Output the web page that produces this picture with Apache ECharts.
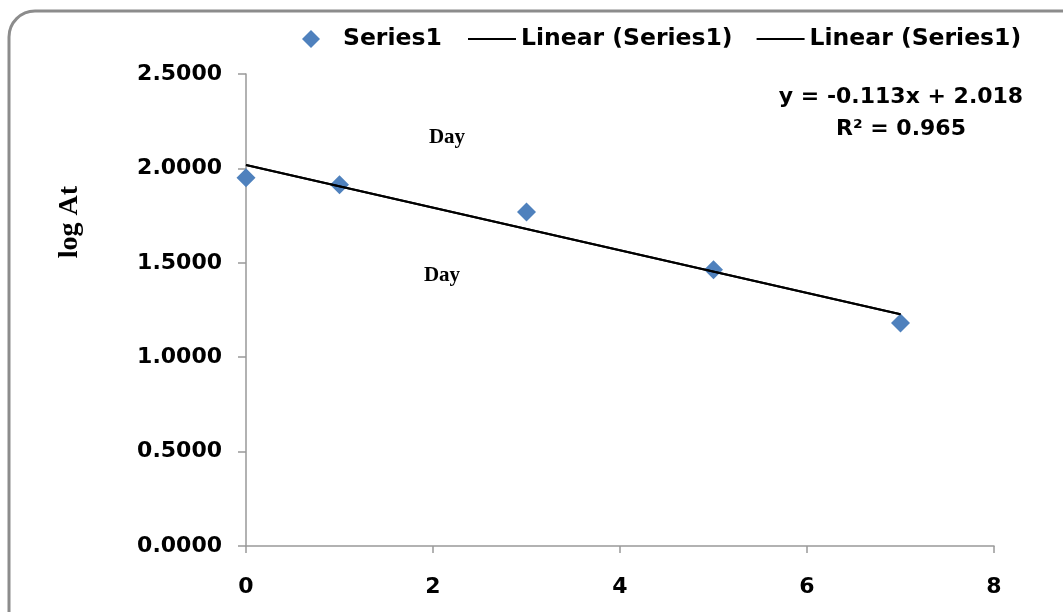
<!DOCTYPE html>
<html>
<head>
<meta charset="utf-8">
<title>log At</title>
<script src="https://cdn.jsdelivr.net/npm/echarts@6/dist/echarts.min.js"></script>
<style>
	html, body { margin: 0; padding: 0; background: #fff; }
	#charts { width: 1063px; height: 612px; }
</style>
</head>
<body>
<div id="charts"></div>
<script>
	// 数据
	var dayX = [0, 1, 3, 5, 7];                          // Day
	var logAt = [1.950, 1.914, 1.769, 1.463, 1.181];     // log At
	var trendX = [0, 7];                                 // 趋势线起止
	var trendY = [2.018, 1.227];
	var equationText = ['y = -0.113x + 2.018', 'R\u00b2 = 0.965'];
	var dayLabels = ['Day', 'Day'];

	var ChartPage = {

		init: function () {
			this.renderChart();
		},

		// 组装点数据
		pairs: function (xs, ys) {
			var out = [];
			for (var i = 0; i < xs.length; i++) {
				out.push([xs[i], ys[i]]);
			}
			return out;
		},

		// 渲染图表
		renderChart: function () {
			var myChart = echarts.init(document.getElementById('charts'));
			var boldSans = 'DejaVu Sans';
			var trend = this.pairs(trendX, trendY);

			var option = {
				backgroundColor: '#fff',
				animation: false,
				grid: {
					left: 246,
					right: 69,
					top: 74,
					bottom: 66
				},
				legend: [
					{
						left: 302,
						top: 27,
						padding: 0,
						itemWidth: 18,
						itemHeight: 18,
						data: [{ name: 'Series1', icon: 'diamond' }],
						textStyle: {
							color: '#000',
							fontFamily: boldSans,
							fontWeight: 'bold',
							fontSize: 23.5,
							padding: [0, 0, 0, 18]
						}
					},
					{
						left: 468,
						top: 27,
						padding: 0,
						itemWidth: 48,
						itemHeight: 2,
						itemGap: 24,
						icon: 'rect',
						data: ['Linear (Series1)', 'Linear (Series1) '],
						formatter: function (n) { return n.trim(); },
						textStyle: {
							color: '#000',
							fontFamily: boldSans,
							fontWeight: 'bold',
							fontSize: 23.5
						}
					}
				],
				xAxis: {
					type: 'value',
					min: 0,
					max: 8,
					interval: 2,
					splitLine: { show: false },
					axisLine: { lineStyle: { color: '#999', width: 1.5 } },
					axisTick: { length: 7, lineStyle: { color: '#999', width: 1.5 } },
					axisLabel: {
						margin: 30,
						color: '#000',
						fontFamily: boldSans,
						fontWeight: 'bold',
						fontSize: 22
					}
				},
				yAxis: {
					type: 'value',
					min: 0,
					max: 2.5,
					interval: 0.5,
					splitLine: { show: false },
					axisLine: { show: true, lineStyle: { color: '#999', width: 1.5 } },
					axisTick: { show: true, length: 8, lineStyle: { color: '#999', width: 1.5 } },
					axisLabel: {
						margin: 24,
						color: '#000',
						fontFamily: boldSans,
						fontWeight: 'bold',
						fontSize: 22,
						formatter: function (v) { return v.toFixed(4); }
					}
				},
				graphic: [
					// 外框
					{
						type: 'rect',
						z: -10,
						shape: { x: 9, y: 11, width: 1090, height: 640, r: 26 },
						style: { fill: 'none', stroke: '#8c8c8c', lineWidth: 3 }
					},
					// 纵轴标题
					{
						type: 'text',
						x: 70,
						y: 222,
						rotation: Math.PI / 2,
						style: {
							text: 'log At',
							fill: '#000',
							font: 'bold 28px "Liberation Serif", serif',
							align: 'center',
							verticalAlign: 'middle'
						}
					},
					// 趋势线方程
					{
						type: 'text',
						x: 901,
						y: 97,
						style: {
							text: equationText[0],
							fill: '#000',
							font: 'bold 22px "DejaVu Sans", sans-serif',
							align: 'center',
							verticalAlign: 'middle'
						}
					},
					{
						type: 'text',
						x: 901,
						y: 129,
						style: {
							text: equationText[1],
							fill: '#000',
							font: 'bold 22px "DejaVu Sans", sans-serif',
							align: 'center',
							verticalAlign: 'middle'
						}
					},
					// Day 标注
					{
						type: 'text',
						x: 447,
						y: 138,
						style: {
							text: dayLabels[0],
							fill: '#000',
							font: 'bold 21px "Liberation Serif", serif',
							align: 'center',
							verticalAlign: 'middle'
						}
					},
					{
						type: 'text',
						x: 442,
						y: 276,
						style: {
							text: dayLabels[1],
							fill: '#000',
							font: 'bold 21px "Liberation Serif", serif',
							align: 'center',
							verticalAlign: 'middle'
						}
					}
				],
				series: [
					{
						name: 'Series1',
						type: 'scatter',
						symbol: 'diamond',
						symbolSize: 19,
						itemStyle: { color: '#4f81bd', opacity: 1 },
						z: 3,
						data: this.pairs(dayX, logAt)
					},
					{
						name: 'Linear (Series1)',
						type: 'line',
						symbol: 'none',
						lineStyle: { color: '#000', width: 2 },
						itemStyle: { color: '#000' },
						z: 4,
						data: trend
					},
					{
						name: 'Linear (Series1) ',
						type: 'line',
						symbol: 'none',
						lineStyle: { color: '#000', width: 2 },
						itemStyle: { color: '#000' },
						z: 4,
						data: trend
					}
				]
			};

			// 使用刚指定的配置项和数据显示图表。
			myChart.setOption(option);
		}
	};

	ChartPage.init();
</script>
</body>
</html>
